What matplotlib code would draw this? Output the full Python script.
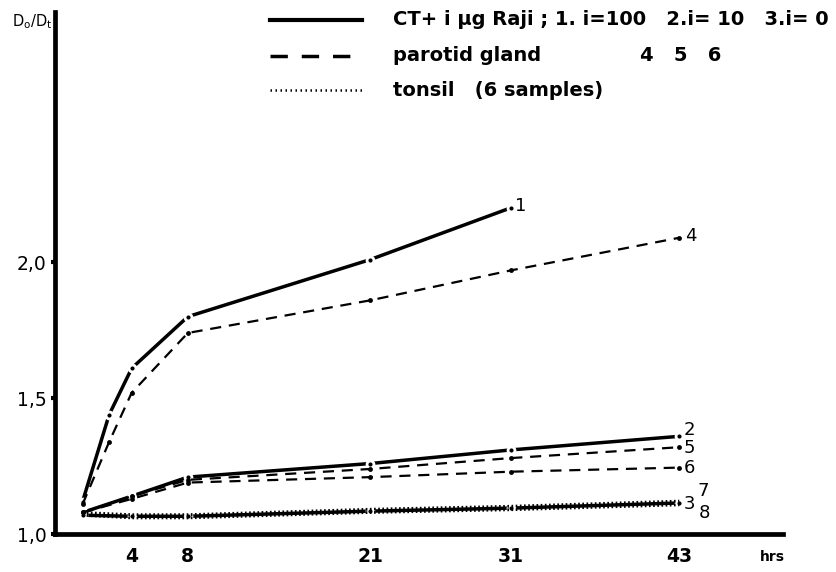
import matplotlib
matplotlib.use("Agg")
import matplotlib.pyplot as plt

plt.rcParams['font.family'] = ['DejaVu Sans']

# hours after start
hours = [0.5, 2.4, 4, 8, 21, 31, 43]
hours_low = [0.5, 4, 8, 21, 31, 43]

# CT + i ug Raji
ct1 = [1.12, 1.44, 1.61, 1.80, 2.01, 2.20]          # i = 100 (ends at 31 h)
ct2 = [1.08, 1.14, 1.21, 1.26, 1.31, 1.36]           # i = 10
ct3 = [1.07, 1.066, 1.066, 1.085, 1.096, 1.115]      # i = 0

# parotid gland
par4 = [1.11, 1.34, 1.52, 1.74, 1.86, 1.97, 2.09]
par5 = [1.08, 1.14, 1.20, 1.24, 1.28, 1.32]
par6 = [1.08, 1.13, 1.19, 1.21, 1.23, 1.245]

# tonsil
ton7 = [1.08, 1.072, 1.072, 1.092, 1.103, 1.122]
ton8 = [1.07, 1.060, 1.060, 1.080, 1.090, 1.108]

fig = plt.figure(figsize=(8.36, 5.72), dpi=100)
ax = fig.add_axes([0.0658, 0.066, 0.871, 0.913])
ax.set_xlim(-1.46, 50.4)
ax.set_ylim(1.0, 2.92)

pt_kw = dict(marker='o', ms=5, mfc='black', mec='white', mew=2.0)

# solid lines (CT)
ax.plot(hours[:6], ct1, color='black', lw=2.5, **pt_kw)
ax.plot(hours_low, ct2, color='black', lw=2.5, **pt_kw)
ax.plot(hours_low, ct3, color='black', lw=2.5, **pt_kw)

# dashed lines (parotid)
for ys, x in [(par4, hours), (par5, hours_low), (par6, hours_low)]:
    ax.plot(x, ys, color='black', lw=1.6, dashes=(5, 3.5),
            marker='o', ms=3.5, mfc='black', mec='black', mew=0)

# dotted lines (tonsil)
ax.plot(hours_low, ton7, color='black', lw=2.0, ls=(0, (0.6, 0.9)))
ax.plot(hours_low, ton8, color='black', lw=2.0, ls=(0, (0.6, 0.9)))

# end labels
lab_kw = dict(textcoords='offset points', fontsize=13, va='center', ha='left')
ax.annotate('1', (hours[5], ct1[-1]), xytext=(3, 1), **lab_kw)
ax.annotate('4', (hours[6], par4[-1]), xytext=(4, 1.5), **lab_kw)
ax.annotate('2', (hours_low[-1], ct2[-1]), xytext=(3, 4.5), **lab_kw)
ax.annotate('5', (hours_low[-1], par5[-1]), xytext=(3, -0.5), **lab_kw)
ax.annotate('6', (hours_low[-1], par6[-1]), xytext=(3, -0.5), **lab_kw)
ax.annotate('3', (hours_low[-1], ct3[-1]), xytext=(3, -1), **lab_kw)
ax.annotate('7', (hours_low[-1], ton7[-1]), xytext=(13, 7), **lab_kw)
ax.annotate('8', (hours_low[-1], ton8[-1]), xytext=(14, -6), **lab_kw)

# axes styling
for s in ['top', 'right']:
    ax.spines[s].set_visible(False)
for s in ['left', 'bottom']:
    ax.spines[s].set_linewidth(3.4)
ax.set_xticks([4, 8, 21, 31, 43])
ax.set_xticklabels(['4', '8', '21', '31', '43'], fontsize=13.5, fontweight='bold')
ax.set_yticks([1.0, 1.5, 2.0])
ax.set_yticklabels(['1,0', '1,5', '2,0'], fontsize=13.5)
ax.tick_params(axis='x', length=0, pad=9)
ax.tick_params(axis='y', length=3, width=3, pad=3)

fig.text(0.909, 0.026, 'hrs', fontsize=10, fontweight='bold', ha='left', va='center')
fig.text(0.038, 0.963, r'$\mathregular{D_o/D_t}$', fontsize=10.5, ha='center', va='center')

# legend drawn at top
lx = [0.323, 0.433]
fig.add_artist(plt.Line2D(lx, [0.965, 0.965], color='black', lw=3, transform=fig.transFigure))
fig.add_artist(plt.Line2D(lx, [0.902, 0.902], color='black', lw=2.5, dashes=(5, 4),
                          transform=fig.transFigure))
fig.add_artist(plt.Line2D(lx, [0.843, 0.843], color='black', lw=1.8, ls=(0, (0.6, 1.4)),
                          transform=fig.transFigure))
leg_kw = dict(fontsize=14, fontweight='bold', ha='left', va='center')
fig.text(393 / 836, 0.966, 'CT+ i µg Raji ; 1. i=100   2.i= 10   3.i= 0', **leg_kw)
fig.text(393 / 836, 0.903, 'parotid gland', **leg_kw)
fig.text(640 / 836, 0.903, '4   5   6', **leg_kw)
fig.text(393 / 836, 0.842, 'tonsil   (6 samples)', **leg_kw)

fig.savefig('out.png', dpi=100)
